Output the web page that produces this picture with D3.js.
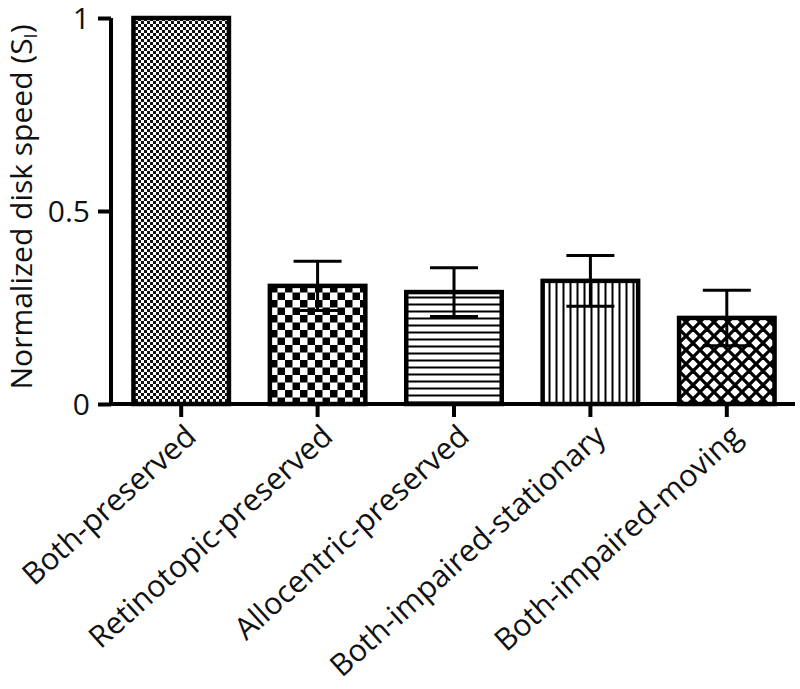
<!DOCTYPE html>
<html><head><meta charset="utf-8">
<script src="https://cdn.jsdelivr.net/npm/d3@7"></script>
<style>body{margin:0;background:#fff}svg{display:block}</style>
</head><body>
<svg id="c" width="800" height="689"></svg>
<script>
const categories = ["Both-preserved","Retinotopic-preserved","Allocentric-preserved","Both-impaired-stationary","Both-impaired-moving"];
const values = [1.0, 0.306, 0.29, 0.319, 0.223];
const errors = [0, 0.064, 0.063, 0.066, 0.072];
const yTicks = [0, 0.5, 1];
const yTickLabels = ["0", "0.5", "1"];
const patternIds = ["p-fine","p-check","p-horiz","p-vert","p-cross"];

const svg = d3.select("#c");
const FONT = "'Open Sans', sans-serif";
const defs = svg.append("defs");
// fine checker
let p = defs.append("pattern").attr("id","p-fine").attr("patternUnits","userSpaceOnUse").attr("width",6).attr("height",6);
p.append("rect").attr("width",6).attr("height",6).attr("fill","#fff");
p.append("rect").attr("x",0).attr("y",0).attr("width",3).attr("height",3).attr("fill","#111");
p.append("rect").attr("x",3).attr("y",3).attr("width",3).attr("height",3).attr("fill","#111");
// large checker
p = defs.append("pattern").attr("id","p-check").attr("patternUnits","userSpaceOnUse").attr("width",15).attr("height",15);
p.append("rect").attr("width",15).attr("height",15).attr("fill","#fff");
p.append("rect").attr("x",0).attr("y",0).attr("width",7.5).attr("height",7.5).attr("fill","#000");
p.append("rect").attr("x",7.5).attr("y",7.5).attr("width",7.5).attr("height",7.5).attr("fill","#000");
// horizontal
p = defs.append("pattern").attr("id","p-horiz").attr("patternUnits","userSpaceOnUse").attr("width",7).attr("height",7);
p.append("rect").attr("width",7).attr("height",7).attr("fill","#fff");
p.append("rect").attr("x",0).attr("y",2.5).attr("width",7).attr("height",2).attr("fill","#000");
// vertical
p = defs.append("pattern").attr("id","p-vert").attr("patternUnits","userSpaceOnUse").attr("width",7).attr("height",7);
p.append("rect").attr("width",7).attr("height",7).attr("fill","#fff");
p.append("rect").attr("x",2.5).attr("y",0).attr("width",2).attr("height",7).attr("fill","#000");
// crosshatch
p = defs.append("pattern").attr("id","p-cross").attr("patternUnits","userSpaceOnUse").attr("width",14).attr("height",14);
p.append("rect").attr("width",14).attr("height",14).attr("fill","#fff");
p.append("path").attr("d","M-2,-2L16,16M-2,16L16,-2M-9,5L9,23M5,-9L23,9M-9,9L9,-9M5,23L23,5").attr("stroke","#000").attr("stroke-width",3.2);

const x = d3.scaleBand().domain(categories).range([113, 795]).paddingInner(0.3).paddingOuter(0.15);
const y = d3.scaleLinear().domain([0, 1]).range([404, 18]);

// bars
svg.selectAll("rect.bar").data(categories).join("rect").attr("class","bar")
  .attr("x", d => x(d)).attr("width", x.bandwidth())
  .attr("y", (d,i) => y(values[i])).attr("height", (d,i) => y(0) - y(values[i]))
  .attr("fill", (d,i) => `url(#${patternIds[i]})`)
  .attr("stroke","#000").attr("stroke-width",4.5);

// error bars
const eb = svg.append("g").attr("stroke","#000").attr("stroke-width",3);
categories.forEach((c,i) => {
  if (!errors[i]) return;
  const cx = x(c) + x.bandwidth()/2;
  const hi = y(values[i] + errors[i]), lo = y(values[i] - errors[i]);
  eb.append("line").attr("x1",cx).attr("x2",cx).attr("y1",hi).attr("y2",lo);
  eb.append("line").attr("x1",cx-24).attr("x2",cx+24).attr("y1",hi).attr("y2",hi);
  eb.append("line").attr("x1",cx-24).attr("x2",cx+24).attr("y1",lo).attr("y2",lo);
});

// y axis
const yAxis = d3.axisLeft(y).tickValues(yTicks).tickFormat((d,i) => yTickLabels[i]).tickSize(13).tickPadding(8);
const gy = svg.append("g").attr("transform","translate(111,0)").call(yAxis);
gy.select(".domain").attr("d", `M0,${y(1)}V${y(0)+2}`).attr("stroke","#000").attr("stroke-width",4);
gy.selectAll(".tick line").attr("stroke","#000").attr("stroke-width",4);
gy.selectAll(".tick text").attr("font-family",FONT).attr("font-size",30).attr("fill","#111").attr("dy","0.36em");

// x axis
const xAxis = d3.axisBottom(x).tickSize(13).tickFormat("");
const gx = svg.append("g").attr("transform",`translate(0,${y(0)})`).call(xAxis);
gx.select(".domain").attr("d","M109,0H795").attr("stroke","#000").attr("stroke-width",4);
gx.selectAll(".tick line").attr("stroke","#000").attr("stroke-width",4);

// x labels
svg.append("g").selectAll("text").data(categories).join("text")
  .attr("transform", d => `translate(${x(d)+x.bandwidth()/2+17},${y(0)+35}) rotate(-42)`)
  .attr("text-anchor","end")
  .attr("font-family",FONT).attr("font-size",30.5).attr("fill","#111")
  .text(d => d);

// y label
const yl = svg.append("text").attr("transform","translate(32,207) rotate(-90)")
  .attr("text-anchor","middle").attr("font-family",FONT).attr("font-size",30).attr("fill","#111");
yl.append("tspan").text("Normalized disk speed (S");
yl.append("tspan").attr("font-size",18).attr("dy",5).text("I");
yl.append("tspan").attr("dy",-5).text(")");
</script>
</body></html>
